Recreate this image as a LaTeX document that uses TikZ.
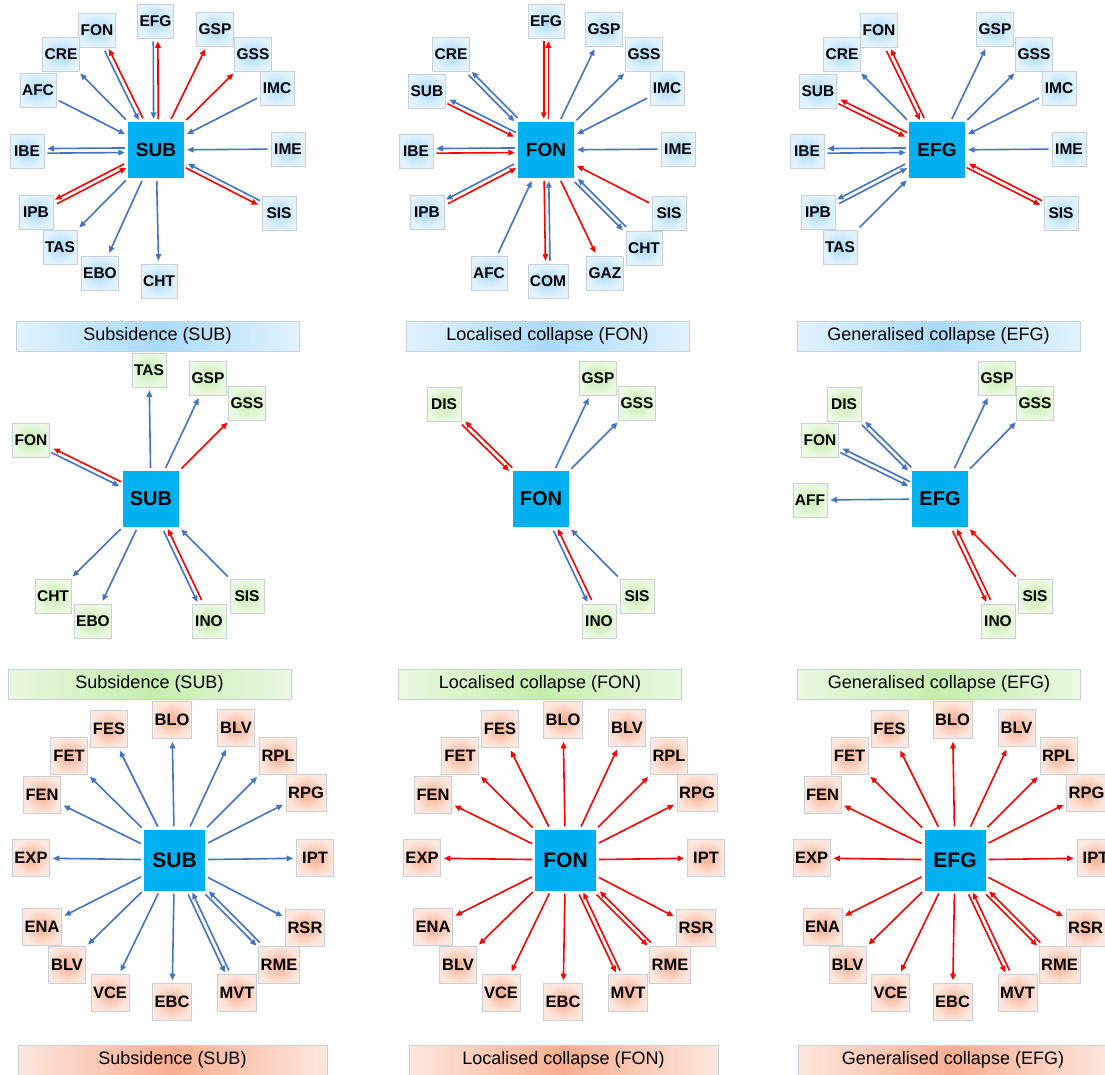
\documentclass[tikz,border=0pt]{standalone}
\usepackage{fontspec}
\setmainfont{Liberation Sans}
\usepackage{tikz}
\usetikzlibrary{arrows.meta,calc}
\definecolor{kjerne}{HTML}{00B0F0}
\definecolor{blaapil}{HTML}{4472C4}
\definecolor{roedpil}{HTML}{FF0000}
\definecolor{lysblaa}{HTML}{A9DAFA}
\definecolor{blekblaa}{HTML}{E2F3FE}
\definecolor{lysgroenn}{HTML}{C4EDAC}
\definecolor{blekgroenn}{HTML}{EBF9E2}
\definecolor{lysoransje}{HTML}{F8AE90}
\definecolor{blekoransje}{HTML}{FDE7DE}
\definecolor{ramme}{HTML}{C8D0D8}

\begin{document}
\begin{tikzpicture}[x=1pt, y=-1pt,
    hub/.style={rectangle, fill=kjerne, minimum size=56pt, inner sep=0pt, font=\bfseries\fontsize{19}{19}\selectfont},
    boks/.style={rectangle, draw=ramme, line width=0.6pt, minimum width=34pt, minimum height=34pt, inner xsep=2pt, inner ysep=0pt, font=\bfseries\fontsize{15.5}{15.5}\selectfont},
    blaaboks/.style={boks, inner color=lysblaa, outer color=blekblaa},
    groennboks/.style={boks, inner color=lysgroenn, outer color=blekgroenn},
    oransjeboks/.style={boks, minimum width=37pt, minimum height=37pt, inner color=lysoransje, outer color=blekoransje, font=\bfseries\fontsize{16.5}{16.5}\selectfont},
    bjelke/.style={rectangle, draw=ramme, line width=0.8pt, minimum width=283pt, minimum height=30pt, inner sep=0pt, font=\fontsize{18}{18}\selectfont},
    pil/.style={-{Triangle[length=6.5pt,width=5.5pt]}, line width=1.6pt, shorten <=3pt, shorten >=3pt},
    pilb/.style={pil, draw=blaapil},
    pilr/.style={pil, draw=roedpil},
    spor/.style 2 args={transform canvas={shift={($(#1)!2.3pt!-90:(#2)-(#1)$)}}}]
    \useasboundingbox (0,0) rectangle (1105,1074);

    % --- row 1: subsidence
    \node[hub] (aSUB) at (156,150) {SUB};
    \node[blaaboks] (aEFG) at (155.5,21) {EFG};
    \node[blaaboks] (aFON) at (97,30) {FON};
    \node[blaaboks] (aGSP) at (215,29) {GSP};
    \node[blaaboks] (aCRE) at (61,54) {CRE};
    \node[blaaboks] (aGSS) at (253,54) {GSS};
    \node[blaaboks] (aAFC) at (38,90) {AFC};
    \node[blaaboks] (aIMC) at (277,88) {IMC};
    \node[blaaboks] (aIBE) at (27,151) {IBE};
    \node[blaaboks] (aIME) at (288,149) {IME};
    \node[blaaboks] (aIPB) at (36,212) {IPB};
    \node[blaaboks] (aSIS) at (279,213) {SIS};
    \node[blaaboks] (aTAS) at (60,247) {TAS};
    \node[blaaboks] (aEBO) at (100,273) {EBO};
    \node[blaaboks] (aCHT) at (159,281) {CHT};
    \node[bjelke, left color=blekblaa, right color=blekblaa, middle color=lysblaa] (aBar) at (157.5,336) {Subsidence (SUB)};
    \draw[pilb] (aSUB) -- (aCRE);
    \draw[pilr] (aSUB) -- (aGSP);
    \draw[pilr] (aSUB) -- (aGSS);
    \draw[pilb] (aIMC) -- (aSUB);
    \draw[pilb] (aAFC) -- (aSUB);
    \draw[pilb] (aIME) -- (aSUB);
    \draw[pilb] (aSUB) -- (aTAS);
    \draw[pilb] (aSUB) -- (aEBO);
    \draw[pilb] (aSUB) -- (aCHT);
    \draw[pilb, spor={aFON}{aSUB}] (aFON) -- (aSUB);
    \draw[pilr, spor={aSUB}{aFON}] (aSUB) -- (aFON);
    \draw[pilb, spor={aEFG}{aSUB}] (aEFG) -- (aSUB);
    \draw[pilr, spor={aSUB}{aEFG}] (aSUB) -- (aEFG);
    \draw[pilb, spor={aSUB}{aIBE}] (aSUB) -- (aIBE);
    \draw[pilb, spor={aIBE}{aSUB}] (aIBE) -- (aSUB);
    \draw[pilr, spor={aSUB}{aIPB}] (aSUB) -- (aIPB);
    \draw[pilr, spor={aIPB}{aSUB}] (aIPB) -- (aSUB);
    \draw[pilb, spor={aSIS}{aSUB}] (aSIS) -- (aSUB);
    \draw[pilr, spor={aSUB}{aSIS}] (aSUB) -- (aSIS);

    % --- row 1: localised collapse
    \node[hub] (bFON) at (546,150) {FON};
    \node[blaaboks] (bEFG) at (546,21) {EFG};
    \node[blaaboks] (bGSP) at (604,29) {GSP};
    \node[blaaboks] (bCRE) at (451,54) {CRE};
    \node[blaaboks] (bGSS) at (644,54) {GSS};
    \node[blaaboks] (bSUB) at (427,91) {SUB};
    \node[blaaboks] (bIMC) at (667,88) {IMC};
    \node[blaaboks] (bIBE) at (416,151) {IBE};
    \node[blaaboks] (bIME) at (678,149) {IME};
    \node[blaaboks] (bIPB) at (427,212) {IPB};
    \node[blaaboks] (bSIS) at (669,213) {SIS};
    \node[blaaboks] (bCHT) at (644,248) {CHT};
    \node[blaaboks] (bAFC) at (489,273) {AFC};
    \node[blaaboks] (bCOM) at (548,281) {COM};
    \node[blaaboks] (bGAZ) at (605,273) {GAZ};
    \node[bjelke, left color=blekblaa, right color=blekblaa, middle color=lysblaa] (bBar) at (547.5,336) {Localised collapse (FON)};
    \draw[pilb] (bFON) -- (bGSP);
    \draw[pilb] (bFON) -- (bGSS);
    \draw[pilb] (bIMC) -- (bFON);
    \draw[pilb] (bIME) -- (bFON);
    \draw[pilr] (bSIS) -- (bFON);
    \draw[pilb] (bAFC) -- (bFON);
    \draw[pilr] (bFON) -- (bGAZ);
    \draw[pilr, spor={bEFG}{bFON}] (bEFG) -- (bFON);
    \draw[pilr, spor={bFON}{bEFG}] (bFON) -- (bEFG);
    \draw[pilb, spor={bFON}{bCRE}] (bFON) -- (bCRE);
    \draw[pilb, spor={bCRE}{bFON}] (bCRE) -- (bFON);
    \draw[pilb, spor={bFON}{bSUB}] (bFON) -- (bSUB);
    \draw[pilr, spor={bSUB}{bFON}] (bSUB) -- (bFON);
    \draw[pilb, spor={bFON}{bIBE}] (bFON) -- (bIBE);
    \draw[pilr, spor={bIBE}{bFON}] (bIBE) -- (bFON);
    \draw[pilb, spor={bFON}{bIPB}] (bFON) -- (bIPB);
    \draw[pilr, spor={bIPB}{bFON}] (bIPB) -- (bFON);
    \draw[pilb, spor={bFON}{bCHT}] (bFON) -- (bCHT);
    \draw[pilb, spor={bCHT}{bFON}] (bCHT) -- (bFON);
    \draw[pilr, spor={bFON}{bCOM}] (bFON) -- (bCOM);
    \draw[pilb, spor={bCOM}{bFON}] (bCOM) -- (bFON);

    % --- row 1: generalised collapse
    \node[hub] (cEFG) at (937,150) {EFG};
    \node[blaaboks] (cFON) at (879,30) {FON};
    \node[blaaboks] (cGSP) at (995,29) {GSP};
    \node[blaaboks] (cCRE) at (842,54) {CRE};
    \node[blaaboks] (cGSS) at (1034,54) {GSS};
    \node[blaaboks] (cSUB) at (818,91) {SUB};
    \node[blaaboks] (cIMC) at (1059,88) {IMC};
    \node[blaaboks] (cIBE) at (807,151) {IBE};
    \node[blaaboks] (cIME) at (1069,149) {IME};
    \node[blaaboks] (cIPB) at (818,212) {IPB};
    \node[blaaboks] (cSIS) at (1061,213) {SIS};
    \node[blaaboks] (cTAS) at (840,247) {TAS};
    \node[bjelke, left color=blekblaa, right color=blekblaa, middle color=lysblaa] (cBar) at (938.5,336) {Generalised collapse (EFG)};
    \draw[pilb] (cEFG) -- (cCRE);
    \draw[pilb] (cEFG) -- (cGSP);
    \draw[pilb] (cEFG) -- (cGSS);
    \draw[pilb] (cIMC) -- (cEFG);
    \draw[pilb] (cIME) -- (cEFG);
    \draw[pilb] (cTAS) -- (cEFG);
    \draw[pilr, spor={cFON}{cEFG}] (cFON) -- (cEFG);
    \draw[pilr, spor={cEFG}{cFON}] (cEFG) -- (cFON);
    \draw[pilr, spor={cEFG}{cSUB}] (cEFG) -- (cSUB);
    \draw[pilr, spor={cSUB}{cEFG}] (cSUB) -- (cEFG);
    \draw[pilb, spor={cEFG}{cIBE}] (cEFG) -- (cIBE);
    \draw[pilb, spor={cIBE}{cEFG}] (cIBE) -- (cEFG);
    \draw[pilb, spor={cEFG}{cIPB}] (cEFG) -- (cIPB);
    \draw[pilb, spor={cIPB}{cEFG}] (cIPB) -- (cEFG);
    \draw[pilr, spor={cSIS}{cEFG}] (cSIS) -- (cEFG);
    \draw[pilr, spor={cEFG}{cSIS}] (cEFG) -- (cSIS);

    % --- row 2
    \node[hub, font=\bfseries\fontsize{20}{20}\selectfont] (dSUB) at (151,499) {SUB};
    \node[groennboks] (dTAS) at (149,370) {TAS};
    \node[groennboks] (dGSP) at (208,378) {GSP};
    \node[groennboks] (dGSS) at (247,403) {GSS};
    \node[groennboks] (dFON) at (31,440) {FON};
    \node[groennboks] (dCHT) at (53,596) {CHT};
    \node[groennboks] (dEBO) at (93,621) {EBO};
    \node[groennboks] (dINO) at (209,621) {INO};
    \node[groennboks] (dSIS) at (247,596) {SIS};
    \node[bjelke, left color=blekgroenn, right color=blekgroenn, middle color=lysgroenn] (dBar) at (149.5,684) {Subsidence (SUB)};
    \draw[pilb] (dSUB) -- (dTAS);
    \draw[pilb] (dSUB) -- (dGSP);
    \draw[pilr] (dSUB) -- (dGSS);
    \draw[pilb] (dSUB) -- (dCHT);
    \draw[pilb] (dSUB) -- (dEBO);
    \draw[pilb] (dSIS) -- (dSUB);
    \draw[pilr, spor={dSUB}{dFON}] (dSUB) -- (dFON);
    \draw[pilb, spor={dFON}{dSUB}] (dFON) -- (dSUB);
    \draw[pilb, spor={dSUB}{dINO}] (dSUB) -- (dINO);
    \draw[pilr, spor={dINO}{dSUB}] (dINO) -- (dSUB);

    \node[hub, font=\bfseries\fontsize{20}{20}\selectfont] (eFON) at (541,499) {FON};
    \node[groennboks] (eDIS) at (444,404) {DIS};
    \node[groennboks] (eGSP) at (598,378) {GSP};
    \node[groennboks] (eGSS) at (637,403) {GSS};
    \node[groennboks] (eINO) at (599,621) {INO};
    \node[groennboks] (eSIS) at (637,596) {SIS};
    \node[bjelke, left color=blekgroenn, right color=blekgroenn, middle color=lysgroenn] (eBar) at (540,684) {Localised collapse (FON)};
    \draw[pilb] (eFON) -- (eGSP);
    \draw[pilb] (eFON) -- (eGSS);
    \draw[pilb] (eSIS) -- (eFON);
    \draw[pilr, spor={eFON}{eDIS}] (eFON) -- (eDIS);
    \draw[pilr, spor={eDIS}{eFON}] (eDIS) -- (eFON);
    \draw[pilb, spor={eFON}{eINO}] (eFON) -- (eINO);
    \draw[pilr, spor={eINO}{eFON}] (eINO) -- (eFON);

    \node[hub, font=\bfseries\fontsize{20}{20}\selectfont] (fEFG) at (940,499) {EFG};
    \node[groennboks] (fDIS) at (844,404) {DIS};
    \node[groennboks] (fFON) at (820,440) {FON};
    \node[groennboks] (fAFF) at (810,500) {AFF};
    \node[groennboks] (fGSP) at (997,378) {GSP};
    \node[groennboks] (fGSS) at (1035,403) {GSS};
    \node[groennboks] (fINO) at (998,621) {INO};
    \node[groennboks] (fSIS) at (1035,596) {SIS};
    \node[bjelke, left color=blekgroenn, right color=blekgroenn, middle color=lysgroenn] (fBar) at (939,684) {Generalised collapse (EFG)};
    \draw[pilb] (fEFG) -- (fAFF);
    \draw[pilb] (fEFG) -- (fGSP);
    \draw[pilb] (fEFG) -- (fGSS);
    \draw[pilr] (fSIS) -- (fEFG);
    \draw[pilb, spor={fEFG}{fDIS}] (fEFG) -- (fDIS);
    \draw[pilb, spor={fDIS}{fEFG}] (fDIS) -- (fEFG);
    \draw[pilb, spor={fEFG}{fFON}] (fEFG) -- (fFON);
    \draw[pilb, spor={fFON}{fEFG}] (fFON) -- (fEFG);
    \draw[pilr, spor={fEFG}{fINO}] (fEFG) -- (fINO);
    \draw[pilr, spor={fINO}{fEFG}] (fINO) -- (fEFG);

    % --- row 3: same star three times
    \foreach \i/\dx/\hubtekst/\farge/\navn in {1/0/SUB/blaapil/{Subsidence (SUB)}, 2/391/FON/roedpil/{Localised collapse (FON)}, 3/780.5/EFG/roedpil/{Generalised collapse (EFG)}}{
        \node[hub, minimum size=61pt, font=\bfseries\fontsize{21}{21}\selectfont] (g\i) at (174.5+\dx,860) {\hubtekst};
        \foreach \n/\tekst/\rx/\ry in {blo/BLO/-2.5/-140, fes/FES/-65.5/-131, blvo/BLV/61.5/-132, fet/FET/-105.5/-104, rpl/RPL/103.5/-104, fen/FEN/-132.5/-65, rpg/RPG/131.5/-67, exp/EXP/-143.5/-2, ipt/IPT/140.5/-2, ena/ENA/-132.5/67, rsr/RSR/130.5/68, blvn/BLV/-107.5/105, rme/RME/104.5/105, vce/VCE/-64.5/133, ebc/EBC/-2.5/142, mvt/MVT/62.5/133}
            \node[oransjeboks] (g\i\n) at (174.5+\dx+\rx,860+\ry) {\tekst};
        \foreach \n in {blo,fes,blvo,fet,rpl,fen,rpg,exp,ipt,ena,rsr,blvn,vce,ebc}
            \draw[pil, draw=\farge] (g\i) -- (g\i\n);
        \foreach \n in {rme,mvt}{
            \draw[pil, draw=\farge, spor={g\i}{g\i\n}] (g\i) -- (g\i\n);
            \draw[pil, draw=\farge, spor={g\i\n}{g\i}] (g\i\n) -- (g\i);
        }
        \node[bjelke, minimum width=309pt, left color=blekoransje, right color=blekoransje, middle color=lysoransje] (gBar\i) at (172.5+\dx,1060) {\navn};
    }
\end{tikzpicture}
\end{document}
